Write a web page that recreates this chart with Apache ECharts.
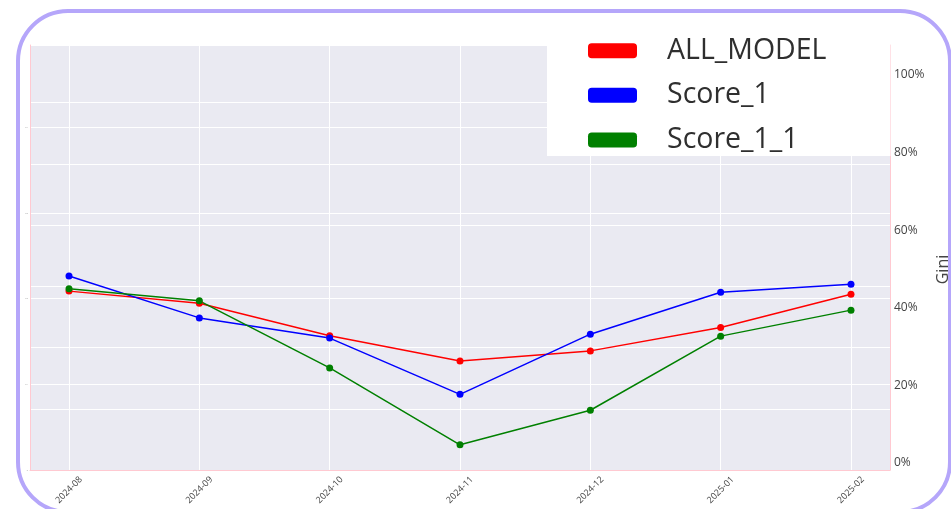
<!DOCTYPE html>
<html>
<head>
<meta charset="utf-8">
<script src="https://cdn.jsdelivr.net/npm/echarts@6/dist/echarts.min.js"></script>
<style>
html,body{margin:0;padding:0;background:#fff;}
#chart{width:951px;height:509px;}
</style>
</head>
<body>
<div id="chart"></div>
<script>
const categories = ['2024-08','2024-09','2024-10','2024-11','2024-12','2025-01','2025-02'];
const seriesNames = ['ALL_MODEL','Score_1','Score_1_1'];
const allModel = [44.3, 41.2, 32.8, 26.3, 28.9, 34.9, 43.5];
const score1 = [48.2, 37.4, 32.2, 17.7, 33.2, 44.0, 46.1];
const score11 = [44.9, 41.8, 24.5, 4.7, 13.6, 32.7, 39.4];
const rightTicks = [0, 20, 40, 60, 80, 100];
const leftTicks = [0, 1, 2, 3, 4];
const colors = ['#ff0000', '#0000ff', '#008000'];

const catIdx = categories.map((c, i) => i);
const toPairs = arr => arr.map((v, i) => [i, v]);
const values = [allModel, score1, score11];

const chart = echarts.init(document.getElementById('chart'), null, {renderer: 'canvas'});
const pink = '#ffc9d1';
chart.setOption({
  animation: false,
  backgroundColor: '#ffffff',
  textStyle: {fontFamily: 'Open Sans'},
  graphic: [{
    type: 'rect', z: 0, silent: true,
    shape: {x: 18, y: 11, width: 932, height: 501, r: 50},
    style: {fill: 'none', stroke: '#b5a6fa', lineWidth: 4}
  }],
  grid: {left: 30, right: 61, top: 45, bottom: 39, show: true, backgroundColor: '#eaeaf2', borderWidth: 0,
         containLabel: false, outerBoundsMode: 'none'},
  legend: {
    orient: 'vertical', left: 547, top: 30.7,
    padding: [5, 64, 1, 41],
    backgroundColor: '#ffffff',
    itemWidth: 49, itemHeight: 15, itemGap: 14.6,
    icon: 'roundRect',
    data: seriesNames,
    textStyle: {fontFamily: 'Open Sans', fontSize: 28.5, lineHeight: 30, color: '#2f2f2f', padding: [0, 0, 0, 25]}
  },
  xAxis: {
    type: 'value', min: -0.2993, max: 6.2993,
    axisLine: {show: true, onZero: false, lineStyle: {color: pink, width: 1}},
    axisTick: {show: false, customValues: catIdx},
    splitLine: {show: true, lineStyle: {color: '#ffffff', width: 1}},
    axisLabel: {
      customValues: catIdx, rotate: 45, fontSize: 9, color: '#444',
      align: 'center', verticalAlign: 'middle', margin: 20,
      formatter: v => categories[Math.round(v)]
    }
  },
  yAxis: [
    {
      type: 'value', position: 'left', min: 0, max: 4.962, interval: 1,
      axisLine: {show: true, onZero: false, lineStyle: {color: pink, width: 1}},
      axisTick: {show: false},
      splitLine: {show: true, lineStyle: {color: '#ffffff', width: 1}},
      axisLabel: {show: true, fontSize: 2, color: '#999', margin: 2, formatter: v => leftTicks.includes(v) ? String(v / 10) : ''}
    },
    {
      type: 'value', position: 'left', min: 0, max: 6.94, interval: 1,
      axisLine: {show: false, onZero: false}, axisTick: {show: false}, axisLabel: {show: false},
      splitLine: {show: true, lineStyle: {color: '#ffffff', width: 1}}
    },
    {
      type: 'value', position: 'right', min: -1.80, max: 107.73,
      axisLine: {show: true, onZero: false, lineStyle: {color: pink, width: 1}},
      axisTick: {show: false, customValues: rightTicks},
      splitLine: {show: false},
      axisLabel: {customValues: rightTicks, formatter: '{value}%', fontSize: 12, color: '#444', margin: 4},
      name: 'Gini', nameLocation: 'middle', nameRotate: 90, nameGap: 45,
      nameTextStyle: {fontSize: 16, color: '#444', padding: [0, 24, 0, 0]}
    }
  ],
  series: seriesNames.map((name, k) => ({
    name: name, type: 'line', yAxisIndex: 2,
    data: toPairs(values[k]),
    symbol: 'circle', symbolSize: 7,
    color: colors[k],
    itemStyle: {color: colors[k]},
    lineStyle: {color: colors[k], width: 1.5}
  }))
});
</script>
</body>
</html>
